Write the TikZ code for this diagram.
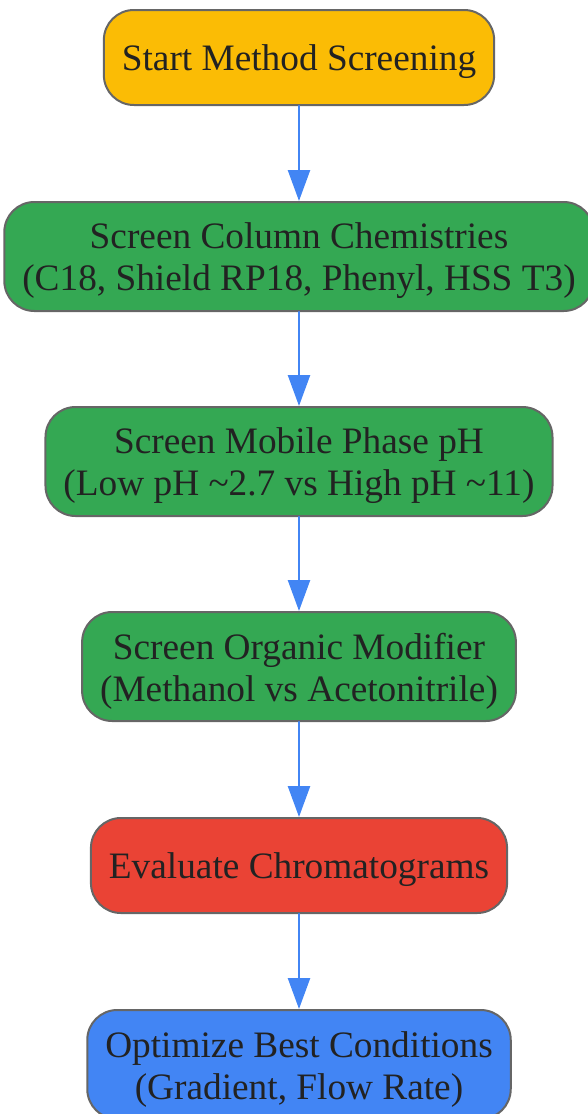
\documentclass[tikz,border=0pt]{standalone}
\usepackage{fontspec}
\setmainfont{Liberation Serif}
\usetikzlibrary{arrows.meta}
\definecolor{startyellow}{HTML}{FBBC05}
\definecolor{stepgreen}{HTML}{34A853}
\definecolor{evalred}{HTML}{EA4335}
\definecolor{optblue}{HTML}{4285F4}
\definecolor{edgegray}{HTML}{666666}
\definecolor{textdark}{HTML}{222222}
\newcommand{\toplift}{\rule{0pt}{35pt}}
\begin{document}
\begin{tikzpicture}[x=1pt, y=-1pt, line cap=round, line join=round, >={Triangle[length=31pt, width=22pt]},
		stepbox/.style={draw=edgegray, line width=2pt, rounded corners=30pt, align=center, text=textdark,
			inner xsep=18pt, inner ysep=3pt, minimum height=95pt, font=\fontsize{37.3}{42}\selectfont},
		twoline/.style={minimum height=109pt},
		flow/.style={->, draw=optblue, line width=2.5pt}]
			\useasboundingbox (0,0) rectangle (588,1114);
			\clip (0,0) rectangle (588,1114);
			% steps
			\node [stepbox, fill=startyellow] (start) at (299,57.5) {\toplift Start Method Screening};
			\node [stepbox, twoline, fill=stepgreen] (column) at (299,256.5) {\toplift Screen Column Chemistries\\(C18, Shield RP18, Phenyl, HSS T3)};
			\node [stepbox, twoline, fill=stepgreen] (ph) at (299,461.5) {\toplift Screen Mobile Phase pH\\(Low pH \textasciitilde2.7 vs High pH \textasciitilde11)};
			\node [stepbox, twoline, fill=stepgreen] (organic) at (299,666.5) {\toplift Screen Organic Modifier\\(Methanol vs Acetonitrile)};
			\node [stepbox, fill=evalred] (evaluate) at (299,865.5) {\toplift Evaluate Chromatograms};
			\node [stepbox, twoline, fill=optblue] (optimize) at (299,1064.5) {\toplift Optimize Best Conditions\\(Gradient, Flow Rate)};
			% connectors
			\draw [flow] (start) -- (column);
			\draw [flow] (column) -- (ph);
			\draw [flow] (ph) -- (organic);
			\draw [flow] (organic) -- (evaluate);
			\draw [flow] (evaluate) -- (optimize);
		\end{tikzpicture}
\end{document}
